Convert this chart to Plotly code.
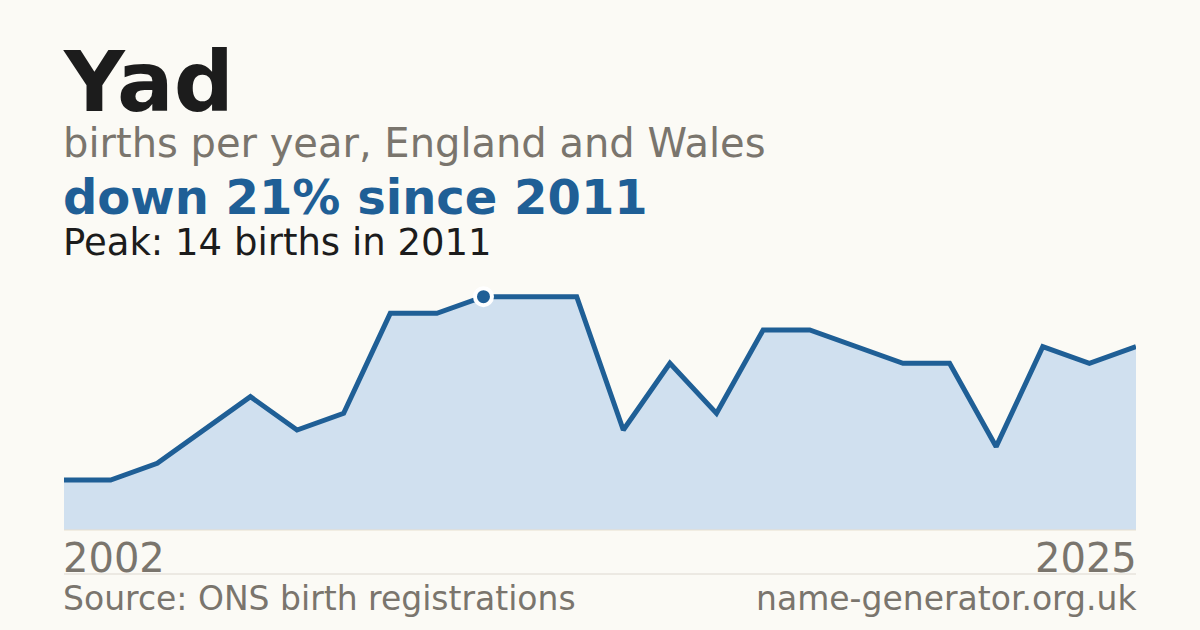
import plotly.graph_objects as go

name = 'Yad'
years = list(range(2002, 2026))
births = [3, 3, 4, 6, 8, 6, 7, 13, 13, 14, 14, 14, 6, 10, 7, 12, 12, 11, 10, 10, 5, 11, 10, 11]

BG = '#fbfaf5'
BLUE = '#1f5f96'
FILL = '#d0e0ef'
GREY = '#7a756d'
DARK = '#1c1c1c'
FONT = 'DejaVu Sans'

peak = max(births)
peak_year = years[births.index(peak)]
change = round((peak - births[-1]) / peak * 100)

fig = go.Figure()
fig.add_trace(go.Scatter(x=years, y=births, mode='lines', fill='tozeroy',
                         fillcolor=FILL, line=dict(color=BLUE, width=5),
                         hoverinfo='skip'))
# peak marker
fig.add_trace(go.Scatter(x=[peak_year], y=[peak], mode='markers',
                         marker=dict(size=17, color=BLUE, line=dict(color='white', width=4)),
                         cliponaxis=False, hoverinfo='skip'))


def label(text, y, size, color, bold=False, right=False):
    if bold:
        text = '<b>' + text + '</b>'
    fig.add_annotation(text=text, xref='paper', yref='paper', x=1 if right else 0, y=y,
                       xanchor='right' if right else 'left', yanchor='middle',
                       xshift=3 if right else -3, showarrow=False,
                       font=dict(family=FONT, size=size, color=color))


label(name, 1.794, 84, DARK, bold=True)
label('births per year, England and Wales', 1.547, 40, GREY)
label('down %d%% since %d' % (change, peak_year), 1.331, 48, BLUE, bold=True)
label('Peak: %d births in %d' % (peak, peak_year), 1.152, 37, DARK)
label(str(years[0]), -0.112, 40, GREY)
label(str(years[-1]), -0.112, 40, GREY, right=True)
label('Source: ONS birth registrations', -0.272, 33, GREY)
label('name-generator.org.uk', -0.272, 33, GREY, right=True)

fig.add_shape(type='line', xref='paper', yref='paper', x0=0, x1=1, y0=0, y1=0,
              line=dict(color='#e8dfcf', width=1))
fig.add_shape(type='line', xref='paper', yref='paper', x0=0, x1=1, y0=-0.176, y1=-0.176,
              line=dict(color='#ddd8d0', width=1))

fig.update_layout(width=1200, height=630, paper_bgcolor=BG, plot_bgcolor=BG,
                  showlegend=False, margin=dict(l=64, r=64, t=280, b=100),
                  xaxis=dict(visible=False, range=[years[0], years[-1]]),
                  yaxis=dict(visible=False, range=[0, 15]))
fig.write_html('out.html', config={'displayModeBar': False},
               post_script="document.body.style.margin='0';")
